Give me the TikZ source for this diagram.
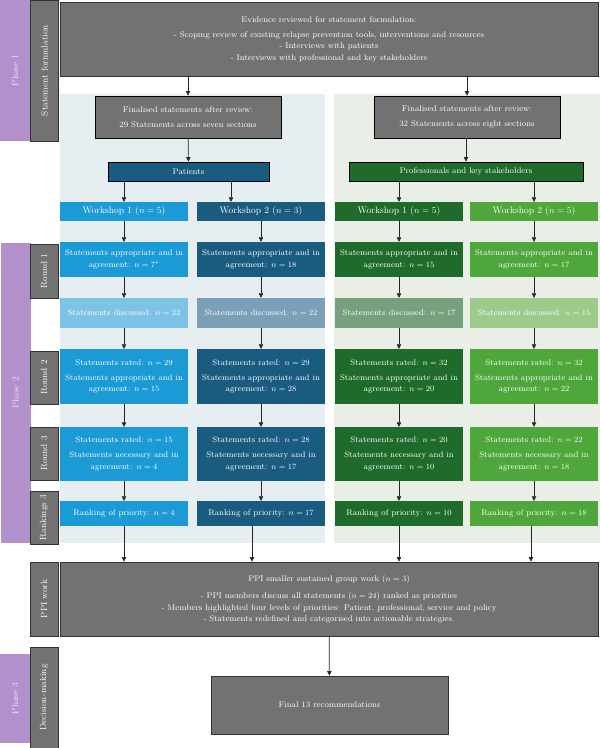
\documentclass[tikz,border=0pt]{standalone}
\usepackage{amsmath}
\usepackage{xcolor}
\usepackage{tikz}
\usetikzlibrary{arrows.meta}

\definecolor{phasepurple}{HTML}{B290CC}
\definecolor{phasetext}{HTML}{F0E6F6}
\definecolor{labgray}{HTML}{727272}
\definecolor{panelblue}{HTML}{E6EEF2}
\definecolor{panelgreen}{HTML}{E9EFE7}
\definecolor{patblue}{HTML}{1B9AD6}
\definecolor{patbluelt}{HTML}{7EC3E6}
\definecolor{patdark}{HTML}{1A5B80}
\definecolor{patdarklt}{HTML}{7C9FB8}
\definecolor{prodark}{HTML}{1E6B2B}
\definecolor{prodarklt}{HTML}{77A17D}
\definecolor{prolight}{HTML}{4FA63B}
\definecolor{prolightlt}{HTML}{9DCB8B}

\newcommand{\wsfont}{\fontsize{9.5}{11}\selectfont}
\newcommand{\labfont}{\fontsize{9}{11}\selectfont}

\tikzset{
    graybox/.style={draw=black!80, line width=0.9pt, fill=labgray, text=white, align=center, inner sep=0pt},
    sidelab/.style={graybox, rotate=90, minimum height=28, font=\labfont},
    phasebar/.style={fill=phasepurple, text=phasetext, rotate=90, inner sep=0pt, minimum height=30, font=\labfont},
    stagebox/.style={text=white, align=center, inner sep=0pt, minimum width=128},
    arr/.style={-{Triangle[length=4.5pt,width=4.5pt]}, line width=0.7pt, black!85},
    plain/.style={line width=0.7pt, black!85},
}

\begin{document}
\begin{tikzpicture}[x=1pt, y=-1pt, font=\fontsize{8.3}{11.5}\selectfont]
    \useasboundingbox (0,0) rectangle (600,748);

    \fill[panelblue] (60,94) rectangle (325,543);
    \fill[panelgreen] (334,94) rectangle (600,543);

    \node[phasebar, minimum width=141] (ph1) at (15,70.5) {Phase 1};
    \node[phasebar, minimum width=300] (ph2) at (15.5,393) {Phase 2};
    \node[phasebar, minimum width=89] (ph3) at (15,698.5) {Phase 3};

    \node[sidelab, minimum width=141] (lsf) at (44.5,70.5) {Statement formulation};
    \node[sidelab, minimum width=54] (lr1) at (44,271) {Round 1};
    \node[sidelab, minimum width=53] (lr2) at (44,377.5) {Round 2};
    \node[sidelab, minimum width=53] (lr3) at (44,453.5) {Round 3};
    \node[sidelab, minimum width=53] (lrk) at (44,517.5) {Rankings 3};
    \node[sidelab, minimum width=74] (lppi) at (44,599) {PPI work};
    \node[sidelab, minimum width=101] (ldm) at (44,697.5) {Decision-making};

    \node[graybox, minimum width=538, minimum height=74] (ev) at (329,39)
        {Evidence reviewed for statement formulation:\\[3.5pt]
         - Scoping review of existing relapse prevention tools, interventions and resources\\
         - Interviews with patients\\
         - Interviews with professional and key stakeholders};

    \node[graybox, draw=black, minimum width=186, minimum height=42] (fin1) at (188,117)
        {Finalised statements after review:\\[4pt] 29 Statements across seven sections};
    \node[graybox, draw=black, minimum width=186, minimum height=42] (fin2) at (467,117)
        {Finalised statements after review:\\[4pt] 32 Statements across eight sections};

    \node[graybox, draw=black, fill=patdark, minimum width=161, minimum height=19] (pat) at (188.5,171.5) {Patients};
    \node[graybox, draw=black, fill=prodark, minimum width=234, minimum height=19] (pro) at (466,171.5) {Professionals and key stakeholders};

    \node[stagebox, fill=patblue, minimum height=19, font=\wsfont] (w1) at (124,211.5) {Workshop 1 ($n = 5$)};
    \node[stagebox, fill=patdark, minimum height=19, font=\wsfont] (w2) at (261,211.5) {Workshop 2 ($n = 3$)};
    \node[stagebox, fill=prodark, minimum height=19, font=\wsfont] (w3) at (399,211.5) {Workshop 1 ($n = 5$)};
    \node[stagebox, fill=prolight, minimum height=19, font=\wsfont] (w4) at (534,211.5) {Workshop 2 ($n = 5$)};

    \node[stagebox, fill=patblue, minimum height=35] (a1) at (124,259.5) {Statements appropriate and in\\ agreement: $n = 7^{*}$};
    \node[stagebox, fill=patdark, minimum height=35] (a2) at (261,259.5) {Statements appropriate and in\\ agreement: $n = 18$};
    \node[stagebox, fill=prodark, minimum height=35] (a3) at (399,259.5) {Statements appropriate and in\\ agreement: $n = 15$};
    \node[stagebox, fill=prolight, minimum height=35] (a4) at (534,259.5) {Statements appropriate and in\\ agreement: $n = 17$};

    \node[stagebox, fill=patbluelt, minimum height=30] (d1) at (124,313) {Statements discussed: $n = 22$};
    \node[stagebox, fill=patdarklt, minimum height=30] (d2) at (261,313) {Statements discussed: $n = 22$};
    \node[stagebox, fill=prodarklt, minimum height=30] (d3) at (399,313) {Statements discussed: $n = 17$};
    \node[stagebox, fill=prolightlt, minimum height=30] (d4) at (534,313) {Statements discussed: $n = 15$};

    \node[stagebox, fill=patblue, minimum height=55] (b1) at (124,376.5) {Statements rated: $n = 29$\\[3.5pt] Statements appropriate and in\\ agreement: $n = 15$};
    \node[stagebox, fill=patdark, minimum height=55] (b2) at (261,376.5) {Statements rated: $n = 29$\\[3.5pt] Statements appropriate and in\\ agreement: $n = 28$};
    \node[stagebox, fill=prodark, minimum height=55] (b3) at (399,376.5) {Statements rated: $n = 32$\\[3.5pt] Statements appropriate and in\\ agreement: $n = 20$};
    \node[stagebox, fill=prolight, minimum height=55] (b4) at (534,376.5) {Statements rated: $n = 32$\\[3.5pt] Statements appropriate and in\\ agreement: $n = 22$};

    \node[stagebox, fill=patblue, minimum height=54] (c1) at (124,454) {Statements rated: $n = 15$\\[3.5pt] Statements necessary and in\\ agreement: $n = 4$};
    \node[stagebox, fill=patdark, minimum height=54] (c2) at (261,454) {Statements rated: $n = 28$\\[3.5pt] Statements necessary and in\\ agreement: $n = 17$};
    \node[stagebox, fill=prodark, minimum height=54] (c3) at (399,454) {Statements rated: $n = 20$\\[3.5pt] Statements necessary and in\\ agreement: $n = 10$};
    \node[stagebox, fill=prolight, minimum height=54] (c4) at (534,454) {Statements rated: $n = 22$\\[3.5pt] Statements necessary and in\\ agreement: $n = 18$};

    \node[stagebox, fill=patblue, minimum height=25] (rk1) at (124,513.5) {Ranking of priority: $n = 4$};
    \node[stagebox, fill=patdark, minimum height=25] (rk2) at (261,513.5) {Ranking of priority: $n = 17$};
    \node[stagebox, fill=prodark, minimum height=25] (rk3) at (399,513.5) {Ranking of priority: $n = 10$};
    \node[stagebox, fill=prolight, minimum height=25] (rk4) at (534,513.5) {Ranking of priority: $n = 18$};

    \node[graybox, minimum width=538, minimum height=74] (ppi) at (329,599)
        {PPI smaller sustained group work ($n = 3$)\\[6pt]
         - PPI members discuss all statements ($n = 24$) ranked as priorities\\
         - Members highlighted four levels of priorities: Patient, professional, service and policy\\
         - Statements redefined and categorised into actionable strategies.};

    \node[graybox, minimum width=237, minimum height=58] (fin) at (329.5,705) {Final 13 recommendations};

    \draw[arr] (ev.south -| fin1.north) -- (fin1.north);
    \draw[arr] (ev.south -| fin2.north) -- (fin2.north);
    \draw[arr] (fin1) -- (pat);
    \draw[arr] (fin2.south -| pro.north) -- (pro.north);

    \draw[arr] (pat.south -| w1.north) -- (w1.north);
    \draw[arr] ([xshift=-30]w2.north |- pat.south) -- ([xshift=-30]w2.north);
    \draw[arr] (pro.south -| w3.north) -- (w3.north);
    \draw[arr] (pro.south -| w4.north) -- (w4.north);

    \draw[arr] (w1) -- (a1);  \draw[arr] (a1) -- (d1);  \draw[arr] (d1) -- (b1);  \draw[arr] (b1) -- (c1);  \draw[arr] (c1) -- (rk1);
    \draw[arr] (w2) -- (a2);  \draw[arr] (a2) -- (d2);  \draw[arr] (d2) -- (b2);  \draw[arr] (b2) -- (c2);  \draw[arr] (c2) -- (rk2);
    \draw[arr] (w3) -- (a3);  \draw[arr] (a3) -- (d3);  \draw[arr] (d3) -- (b3);  \draw[arr] (b3) -- (c3);  \draw[arr] (c3) -- (rk3);
    \draw[arr] (w4) -- (a4);  \draw[arr] (a4) -- (d4);  \draw[arr] (d4) -- (b4);  \draw[arr] (b4) -- (c4);  \draw[arr] (c4) -- (rk4);

    \draw[arr] (rk1.south) -- (rk1.south |- ppi.north);
    \draw[arr] ([xshift=-9]rk2.south) -- ([xshift=-9]rk2.south |- ppi.north);
    \draw[arr] (rk3.south) -- (rk3.south |- ppi.north);
    \draw[arr] ([xshift=-3]rk4.south) -- ([xshift=-3]rk4.south |- ppi.north);

    \draw[arr] (ppi) -- (fin);
\end{tikzpicture}
\end{document}
